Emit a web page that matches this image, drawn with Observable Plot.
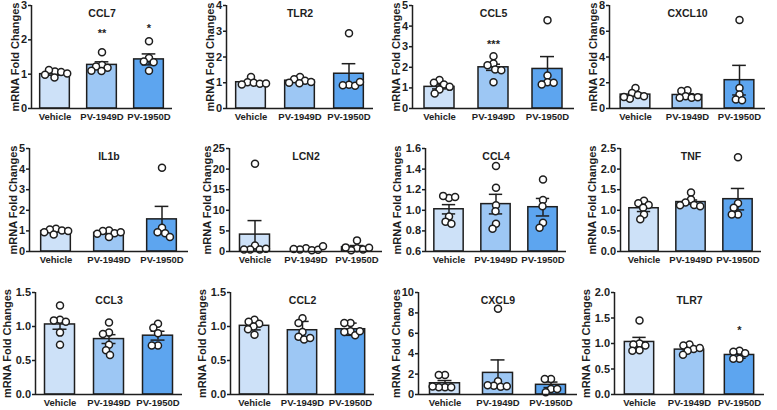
<!DOCTYPE html>
<html><head><meta charset="utf-8">
<script src="https://cdn.jsdelivr.net/npm/d3@7"></script>
<script src="https://cdn.jsdelivr.net/npm/@observablehq/plot@0.6"></script>
<style>
body{margin:0;background:#fff;}
#fig{position:relative;width:777px;height:410px;overflow:hidden;background:#fff;font-family:"Liberation Sans",Arial,sans-serif;}
#fig > div{position:absolute;}
</style></head><body><div id="fig"></div>
<script>
// ---- data ----
const groups = ["Vehicle", "PV-1949D", "PV-1950D"];
const genes = ["CCL7","TLR2","CCL5","CXCL10","IL1b","LCN2","CCL4","TNF","CCL3","CCL2","CXCL9","TLR7"];

const pointsCCL7 = [[1.08,1.12,1.06,0.98,0.90,1.02],[1.64,1.27,1.22,1.19,1.09,1.10],[1.96,1.47,1.37,1.35,1.10]];
const meanCCL7 = [1.00, 1.27, 1.43];
const semCCL7 = [0.03, 0.09, 0.16];
const ticksCCL7 = [0,1,2,3];

const pointsTLR2 = [[1.22,1.02,1.00,0.96,0.93,0.97],[1.22,1.14,1.08,1.03,1.00,0.98],[2.92,0.92,0.90,0.88,1.03]];
const meanTLR2 = [1.02, 1.08, 1.35];
const semTLR2 = [0.04, 0.04, 0.39];
const ticksTLR2 = [0,1,2,3,4];

const pointsCCL5 = [[1.38,1.25,1.17,1.05,0.92,0.73],[2.54,2.18,2.10,1.89,1.86,1.28],[4.29,1.60,1.28,1.17,1.25]];
const meanCCL5 = [1.05, 2.00, 1.92];
const semCCL5 = [0.10, 0.15, 0.60];
const ticksCCL5 = [0,1,2,3,4,5];

const pointsCXCL10 = [[1.60,1.20,1.05,0.95,0.75,0.90],[1.42,1.35,0.96,0.83,0.83,0.88],[6.87,1.60,1.09,0.70,0.65]];
const meanCXCL10 = [1.08, 1.05, 2.20];
const semCXCL10 = [0.13, 0.10, 1.15];
const ticksCXCL10 = [0,2,4,6,8];

const pointsIL1b = [[1.10,1.07,1.02,0.94,0.82,1.00],[1.02,0.99,0.89,0.86,0.70,0.93],[4.07,1.15,0.94,0.89,0.70]];
const meanIL1b = [0.99, 0.90, 1.56];
const semIL1b = [0.04, 0.05, 0.63];
const ticksIL1b = [0,1,2,3,4,5];

const pointsLCN2 = [[21.3,1.46,0.5,0.5,0.5,0.65],[0.8,0.5,0.3,0.4,0.6,1.3],[2.7,0.8,0.3,0.5,1.0,0.9]];
const meanLCN2 = [4.10, 0.65, 1.05];
const semLCN2 = [3.40, 0.15, 0.40];
const ticksLCN2 = [0,5,10,15,20,25];

const pointsCCL4 = [[1.12,1.14,1.13,0.94,0.89,0.87],[1.43,1.22,1.05,0.99,0.87,0.82],[1.30,1.10,1.04,0.88,0.83]];
const meanCCL4 = [1.01, 1.06, 1.03];
const semCCL4 = [0.045, 0.095, 0.085];
const ticksCCL4 = [0.6,0.8,1.0,1.2,1.4,1.6];

const pointsTNF = [[1.23,1.17,1.13,1.06,0.90,0.78],[1.43,1.26,1.19,1.13,1.10,1.12],[2.29,1.17,1.06,0.90,0.90]];
const meanTNF = [1.05, 1.20, 1.27];
const semTNF = [0.08, 0.05, 0.26];
const ticksTNF = [0,0.5,1.0,1.5,2.0,2.5];

const pointsCCL3 = [[1.31,1.10,1.09,1.07,0.91,0.73],[1.06,0.91,0.89,0.73,0.65,0.58],[1.04,0.98,0.90,0.72,0.72]];
const meanCCL3 = [1.03, 0.815, 0.865];
const semCCL3 = [0.07, 0.065, 0.065];
const ticksCCL3 = [0,0.5,1.0,1.5];

const pointsCCL2 = [[1.10,1.07,1.04,1.00,0.96,0.88],[1.12,1.05,0.92,0.85,0.81,0.83],[1.05,1.05,0.93,0.92,0.87,0.93]];
const meanCCL2 = [1.01, 0.945, 0.96];
const semCCL2 = [0.06, 0.13, 0.09];
const ticksCCL2 = [0,0.5,1.0,1.5];

const pointsCXCL9 = [[1.92,1.92,0.72,0.72,0.72,0.78],[8.4,1.3,0.85,0.75,0.8,0.9],[1.53,1.53,0.55,0.23,0.55]];
const meanCXCL9 = [1.10, 2.12, 0.95];
const semCXCL9 = [0.27, 1.27, 0.27];
const ticksCXCL9 = [0,2,4,6,8,10];

const pointsTLR7 = [[1.45,1.00,0.98,0.96,0.87,0.86],[0.98,0.96,0.89,0.86,0.78,0.91],[0.86,0.84,0.81,0.70,0.70]];
const meanTLR7 = [1.03, 0.88, 0.775];
const semTLR7 = [0.09, 0.03, 0.065];
const ticksTLR7 = [0,0.5,1.0,1.5,2.0];

// significance marks: gene, group, label, y
const starGenes = ["CCL7","CCL7","CCL5","TLR7"];
const starGroups = ["PV-1949D","PV-1950D","PV-1949D","PV-1950D"];
const starLabels = ["**","*","***","*"];
const starY = [2.27, 2.42, 3.27, 1.31];

// ---- layout (pixels) ----
const axisX = [30, 225, 412, 608, 28, 229, 424, 619, 35, 229, 418, 613];
const endX  = [172, 373, 574, 765, 188, 382, 567, 762, 182, 375, 577, 765];
const rowTop = [5, 148, 292];
const rowBase = [108, 251, 394];

const barColors = ["#cde1f8", "#9dc7f4", "#5da5ef"];
const ink = "#1e1e1e";

const panels = {
  CCL7: [pointsCCL7, meanCCL7, semCCL7, ticksCCL7],
  TLR2: [pointsTLR2, meanTLR2, semTLR2, ticksTLR2],
  CCL5: [pointsCCL5, meanCCL5, semCCL5, ticksCCL5],
  CXCL10: [pointsCXCL10, meanCXCL10, semCXCL10, ticksCXCL10],
  IL1b: [pointsIL1b, meanIL1b, semIL1b, ticksIL1b],
  LCN2: [pointsLCN2, meanLCN2, semLCN2, ticksLCN2],
  CCL4: [pointsCCL4, meanCCL4, semCCL4, ticksCCL4],
  TNF: [pointsTNF, meanTNF, semTNF, ticksTNF],
  CCL3: [pointsCCL3, meanCCL3, semCCL3, ticksCCL3],
  CCL2: [pointsCCL2, meanCCL2, semCCL2, ticksCCL2],
  CXCL9: [pointsCXCL9, meanCXCL9, semCXCL9, ticksCXCL9],
  TLR7: [pointsTLR7, meanTLR7, semTLR7, ticksTLR7]
};

const fig = document.getElementById("fig");
const font = '"Liberation Sans", Arial, sans-serif';

genes.forEach((name, k) => {
  const [points, mean, sem, ticks] = panels[name];
  const row = Math.floor(k / 4);
  const W = endX[k] - axisX[k];
  const H = rowBase[row] - rowTop[row];
  const mL = 46, mR = 4, mT = 6, mB = 22;
  const ymin = ticks[0], ymax = ticks[ticks.length - 1];
  const dec = ticks.some(t => !Number.isInteger(t)) ? 1 : 0;
  const fmt = d3.format(`.${dec}f`);
  const maxChars = d3.max(ticks, t => fmt(t).length);
  const facetW = W / 3;
  const barInset = Math.max(0, (facetW - 30) / 2);
  const capInset = Math.max(0, (facetW - 14) / 2);

  const stats = groups.map((g, i) => ({g, mean: mean[i], lo: mean[i] - sem[i], hi: mean[i] + sem[i]}));
  const pts = groups.flatMap((g, i) => points[i].map(v => ({g, v})));
  const stars = starGenes.map((s, i) => ({gene: s, g: starGroups[i], t: starLabels[i], y: starY[i]}))
    .filter(d => d.gene === name);

  const chart = Plot.plot({
    width: W + mL + mR,
    height: H + mT + mB,
    marginLeft: mL, marginRight: mR, marginTop: mT, marginBottom: mB,
    style: {fontFamily: font, background: "transparent", color: ink, overflow: "visible", maxWidth: "none"},
    fx: {domain: groups, padding: 0},
    x: {domain: [0, 1], axis: null},
    y: {domain: [ymin, ymax], axis: null},
    color: {domain: groups, range: barColors},
    marks: [
      Plot.barY(stats, {fx: "g", y1: ymin, y2: "mean", fill: "g", stroke: ink, strokeWidth: 1.5,
        insetLeft: barInset, insetRight: barInset}),
      Plot.ruleX(stats, {fx: "g", x: null, y1: "lo", y2: "hi", stroke: ink, strokeWidth: 1.5}),
      Plot.ruleY(stats, {fx: "g", y: "hi", insetLeft: capInset, insetRight: capInset, stroke: ink, strokeWidth: 1.5}),
      Plot.ruleY(stats, {fx: "g", y: "lo", insetLeft: capInset, insetRight: capInset, stroke: ink, strokeWidth: 1.5}),
      Plot.dot(pts, Plot.dodgeX({anchor: "middle", padding: -0.8},
        {fx: "g", y: "v", r: 3.5, fill: "white", stroke: ink, strokeWidth: 1.5})),
      Plot.ruleY([ymin], {stroke: ink, strokeWidth: 1.5}),
      Plot.ruleX([groups[0]], {fx: d => d, x: () => 0, y1: ymin, y2: ymax, stroke: ink, strokeWidth: 1.5}),
      Plot.axisY({ticks, tickFormat: fmt, tickSize: 3, tickPadding: 1.5, fontSize: 11, fontWeight: "bold",
        strokeWidth: 1.5, stroke: ink, label: "mRNA Fold Changes", labelAnchor: "center", labelArrow: "none",
        labelOffset: 15 + 5.8 * maxChars}),
      Plot.axisFx({anchor: "bottom", tickSize: 0, tickPadding: 5, fontSize: 9.5, fontWeight: "bold", label: null}),
      Plot.text([{g: groups[1], t: name}], {fx: "g", text: "t", frameAnchor: "top", dy: 8, lineAnchor: "middle",
        fontSize: 10.5, fontWeight: "bold"}),
      Plot.text(stars, {fx: "g", y: "y", text: "t", fontSize: 11, fontWeight: "bold", dy: 3})
    ]
  });
  const holder = document.createElement("div");
  holder.style.left = (axisX[k] - mL) + "px";
  holder.style.top = (rowTop[row] - mT) + "px";
  holder.style.width = (W + mL + mR) + "px";
  holder.appendChild(chart);
  fig.appendChild(holder);
});
</script></body></html>
